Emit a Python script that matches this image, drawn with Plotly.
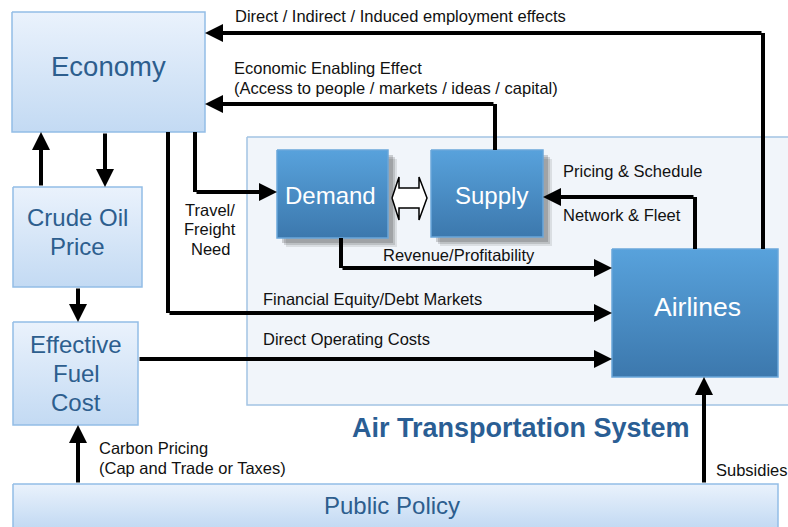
import plotly.graph_objects as go

# node labels
node_names = ["Economy", "Crude Oil<br>Price", "Effective<br>Fuel<br>Cost", "Public Policy",
              "Demand", "Supply", "Airlines"]
system_title = "Air Transportation System"

# flow labels
flow_labels = [
    "Direct / Indirect / Induced employment effects",
    "Economic Enabling Effect<br>(Access to people / markets / ideas / capital)",
    "Travel/<br>Freight<br>Need",
    "Revenue/Profitability",
    "Financial Equity/Debt Markets",
    "Direct Operating Costs",
    "Pricing & Schedule",
    "Network & Fleet",
    "Carbon Pricing<br>(Cap and Trade or Taxes)",
    "Subsidies",
]

W, H = 788, 527
FONT = "Liberation Sans, Arial, Helvetica, sans-serif"

# layout (pixel coords, y down): x0, y0, x1, y1, style, font size
boxes = {
    "Economy": (12, 12, 205, 132, "light", 27.5),
    "Crude Oil<br>Price": (13, 187, 142, 287, "light", 24),
    "Effective<br>Fuel<br>Cost": (13, 322, 138, 425, "light", 24),
    "Public Policy": (13, 484, 778, 545, "light", 24),
    "Demand": (277, 150, 388, 238, "dark", 24),
    "Supply": (431, 150, 543, 237, "dark", 24),
    "Airlines": (612, 249, 778, 377, "dark", 26.5),
}
text_pos = {
    "Economy": (108, 66),
    "Crude Oil<br>Price": (77, 231.5),
    "Effective<br>Fuel<br>Cost": (76, 373.5),
    "Public Policy": (392, 505),
    "Demand": (330, 195),
    "Supply": (491, 195),
    "Airlines": (697, 307),
}
styles = {
    "light": dict(top="#eaf2fc", bottom="#c3daf3", line="#93bde6", text="#2d5e8e"),
    "dark": dict(top="#58a2dc", bottom="#3c78ad", line="#6aa6da", text="white"),
}

flow_paths = [
    [(763, 249), (763, 33), (205, 33)],
    [(495, 150), (495, 104), (205, 104)],
    [(195, 132), (195, 192), (277, 192)],
    [(341, 238), (341, 268), (612, 268)],
    [(168, 132), (168, 313), (612, 313)],
    [(138, 359), (612, 359)],
    [(695, 249), (695, 197), (543, 197)],
    [(41, 187), (41, 132)],
    [(105, 132), (105, 187)],
    [(78, 287), (78, 322)],
    [(78, 484), (78, 425)],
    [(704, 484), (704, 377)],
]
label_pos = [
    (233, 16, "left"), (232, 78, "left"), (210, 229, "center"), (381, 255, "left"),
    (261, 299, "left"), (261, 339, "left"), (561, 171, "left"), (561, 215, "left"),
    (97, 458, "left"), (714, 470, "left"),
]


def rect_xy(x0, y0, x1, y1):
    return [x0, x1, x1, x0, x0], [y0, y0, y1, y1, y0]


def add_lines(fig, text, x, y, step, anchor, font):
    lines = text.split("<br>")
    first = y - step * (len(lines) - 1) / 2
    for i, line in enumerate(lines):
        fig.add_annotation(x=x, y=first + i * step, text=line, showarrow=False,
                           xanchor=anchor, yanchor="middle", font=font)


fig = go.Figure()

# air transportation system region
xs, ys = rect_xy(247, 137, 800, 405)
fig.add_trace(go.Scatter(x=xs, y=ys, mode="lines", fill="toself", fillcolor="#f1f5fa",
                         line=dict(color="#a3c4e4", width=1.5), hoverinfo="skip"))

for name, (x0, y0, x1, y1, kind, size) in boxes.items():
    st = styles[kind]
    if name in ("Demand", "Supply"):
        for off, op in [(9, 0.12), (7, 0.18), (5, 0.22)]:
            sx, sy = rect_xy(x0 + off, y0 + off, x1 + off, y1 + off)
            fig.add_trace(go.Scatter(x=sx, y=sy, mode="lines", fill="toself",
                                     fillcolor=f"rgba(60,60,60,{op})", line=dict(width=0),
                                     hoverinfo="skip"))
    xs, ys = rect_xy(x0, y0, x1, y1)
    fig.add_trace(go.Scatter(
        x=xs, y=ys, mode="lines", fill="toself",
        fillgradient=dict(type="vertical", start=y0, stop=min(y1, H),
                          colorscale=[[0, st["top"]], [1, st["bottom"]]]),
        line=dict(color=st["line"], width=1.5), hoverinfo="skip"))
    tx, ty = text_pos[name]
    add_lines(fig, name, tx, ty, 29, "center",
              dict(family=FONT, size=size, color=st["text"]))

# hollow double arrow between Demand and Supply
dx = [392, 399, 399, 419, 419, 427, 419, 419, 399, 399, 392]
dy = [198, 177, 188, 188, 177, 198, 220, 208, 208, 220, 198]
fig.add_trace(go.Scatter(x=dx, y=dy, mode="lines", fill="toself", fillcolor="white",
                         line=dict(color="black", width=1.5), hoverinfo="skip"))

# flows
for path in flow_paths:
    if len(path) > 2:
        px_, py_ = zip(*path[:-1])
        fig.add_trace(go.Scatter(x=list(px_), y=list(py_), mode="lines",
                                 line=dict(color="black", width=4), hoverinfo="skip"))
    (ax, ay), (x, y) = path[-2], path[-1]
    fig.add_annotation(x=x, y=y, ax=ax, ay=ay, xref="x", yref="y", axref="x", ayref="y",
                       text="", showarrow=True, arrowhead=2, arrowsize=0.9,
                       arrowwidth=4, arrowcolor="black", standoff=0)

for text, (x, y, anchor) in zip(flow_labels, label_pos):
    add_lines(fig, text, x, y, 19.5, anchor, dict(family=FONT, size=16.5, color="#111111"))

fig.add_annotation(x=521, y=428, text=f"<b>{system_title}</b>", showarrow=False,
                   font=dict(family=FONT, size=27, color="#2a5e94"))

fig.update_layout(
    width=W, height=H,
    margin=dict(l=0, r=0, t=0, b=0),
    paper_bgcolor="white", plot_bgcolor="white",
    showlegend=False,
    xaxis=dict(range=[0, W], visible=False, fixedrange=True),
    yaxis=dict(range=[H, 0], visible=False, fixedrange=True),
)

fig.write_html("out.html", config={"displayModeBar": False},
               post_script="document.body.style.margin='0px';")
